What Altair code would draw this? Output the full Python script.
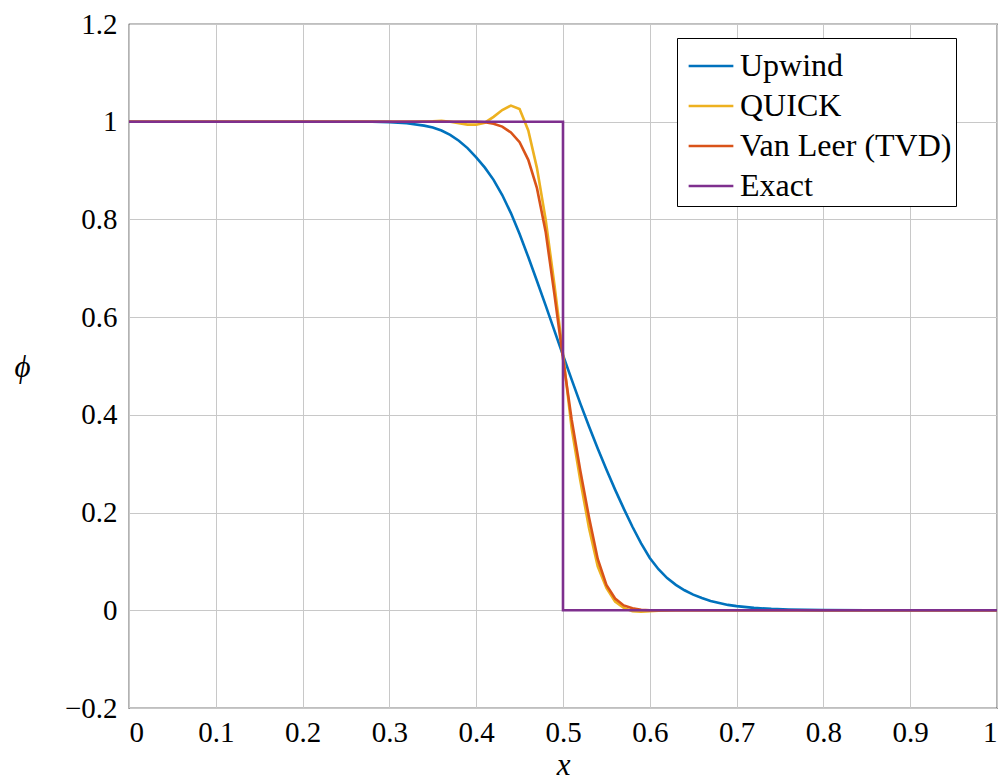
import altair as alt
import pandas as pd

# Sampled solutions of the 1D step advection test
upwind_x = [0.0, 0.25, 0.28, 0.30, 0.32, 0.34, 0.35, 0.36, 0.37, 0.38, 0.39,
            0.40, 0.41, 0.42, 0.43, 0.44, 0.45, 0.46, 0.47, 0.48, 0.49,
            0.50, 0.51, 0.52, 0.53, 0.54, 0.55, 0.56, 0.57, 0.58, 0.59,
            0.60, 0.61, 0.62, 0.63, 0.64, 0.65, 0.66, 0.67, 0.68, 0.69,
            0.70, 0.72, 0.74, 0.76, 0.78, 0.80, 0.85, 1.0]
upwind_phi = [1.0, 1.0, 0.9998, 0.9992, 0.997, 0.992, 0.988, 0.982, 0.973, 0.961, 0.946,
              0.927, 0.906, 0.881, 0.850, 0.813, 0.770, 0.723, 0.674, 0.624, 0.573,
              0.522, 0.472, 0.423, 0.376, 0.331, 0.288, 0.247, 0.208, 0.171, 0.137,
              0.107, 0.084, 0.066, 0.052, 0.041, 0.032, 0.025, 0.019, 0.015, 0.011,
              0.0085, 0.005, 0.0028, 0.0015, 0.0008, 0.0004, 0.0, 0.0]

quick_x = [0.0, 0.30, 0.33, 0.35, 0.36, 0.37, 0.38, 0.39, 0.40, 0.41, 0.42,
           0.43, 0.44, 0.45, 0.46, 0.47, 0.48, 0.49, 0.50, 0.51, 0.52,
           0.53, 0.54, 0.55, 0.56, 0.57, 0.58, 0.59, 0.60, 0.61, 0.63, 1.0]
quick_phi = [1.0, 1.0, 1.0, 1.001, 1.002, 1.0, 0.997, 0.994, 0.994, 0.998, 1.010,
             1.024, 1.033, 1.026, 0.982, 0.905, 0.800, 0.668, 0.525, 0.372, 0.265,
             0.168, 0.090, 0.046, 0.018, 0.005, -0.002, -0.003, -0.002, -0.001, 0.0, 0.0]

vanleer_x = [0.0, 0.40, 0.41, 0.42, 0.43, 0.44, 0.45, 0.46, 0.47, 0.48, 0.49,
             0.50, 0.51, 0.52, 0.53, 0.54, 0.55, 0.56, 0.57, 0.58, 0.59, 0.60, 1.0]
vanleer_phi = [1.0, 1.0, 0.999, 0.996, 0.990, 0.978, 0.958, 0.922, 0.864, 0.775, 0.648,
               0.515, 0.390, 0.285, 0.190, 0.105, 0.052, 0.024, 0.010, 0.004, 0.001, 0.0, 0.0]

exact_x = [0.0, 0.5, 0.5, 1.0]
exact_phi = [1.0, 1.0, 0.0, 0.0]

series_names = ["Upwind", "QUICK", "Van Leer (TVD)", "Exact"]
series_colors = ["#0072BD", "#EDB120", "#D95319", "#7E2F8E"]

x_ticks = [0.0, 0.1, 0.2, 0.3, 0.4, 0.5, 0.6, 0.7, 0.8, 0.9, 1.0]
y_ticks = [-0.2, 0.0, 0.2, 0.4, 0.6, 0.8, 1.0, 1.2]

frames = []
for name, xs, ys in zip(series_names,
                        [upwind_x, quick_x, vanleer_x, exact_x],
                        [upwind_phi, quick_phi, vanleer_phi, exact_phi]):
    frames.append(pd.DataFrame({"x": xs, "phi": ys, "scheme": name, "i": range(len(xs))}))
df = pd.concat(frames, ignore_index=True)

SERIF = "Liberation Serif, DejaVu Serif"

color = alt.Color(
    "scheme:N",
    scale=alt.Scale(domain=series_names, range=series_colors),
    legend=alt.Legend(
        title=None,
        orient="none",
        legendX=548,
        legendY=14,
        symbolType="stroke",
        symbolSize=2000,
        symbolStrokeWidth=2.6,
        symbolOffset=6,
        labelFont=SERIF,
        labelFontSize=32,
        labelColor="black",
        labelOffset=5,
        labelLimit=400,
        rowPadding=-3,
        padding=4,
        strokeColor="black",
        fillColor="white",
        cornerRadius=0,
    ),
)

x_enc = alt.X(
    "x:Q",
    scale=alt.Scale(domain=[0, 1], nice=False, zero=False),
    axis=alt.Axis(
        title="x",
        values=x_ticks,
        labelExpr="format(datum.value, '.1~f')",
        titleFontStyle="italic",
        titleX=434,
        titleY=66,
        titleBaseline="alphabetic",
    ),
)
y_enc = alt.Y(
    "phi:Q",
    scale=alt.Scale(domain=[-0.2, 1.2], nice=False, zero=False),
    axis=alt.Axis(
        title="ϕ",
        values=y_ticks,
        labelExpr="format(datum.value, '.1~f')",
        titleAngle=0,
        titleX=-107,
        titleY=343,
        titleAlign="center",
        titleBaseline="middle",
        titleFontStyle="italic",
    ),
)

layers = []
for name in series_names:
    layers.append(
        alt.Chart(df)
        .transform_filter(alt.datum.scheme == name)
        .mark_line(strokeWidth=2.6, clip=True)
        .encode(x=x_enc, y=y_enc, color=color, order=alt.Order("i:Q"))
    )

chart = (
    alt.layer(*layers)
    .properties(
        width=868,
        height=684,
        autosize=alt.AutoSizeParams(type="none"),
        padding={"left": 129, "top": 24, "right": 6, "bottom": 72},
    )
    .configure_view(stroke="black", strokeWidth=1.2)
    .configure_axis(
        grid=True,
        gridColor="#c8c8c8",
        gridWidth=1,
        ticks=False,
        tickSize=0,
        domain=False,
        labelFont=SERIF,
        labelFontSize=29,
        labelColor="black",
        titleFont=SERIF,
        titleFontSize=31,
        titleFontWeight="normal",
        titleColor="black",
    )
    .configure_axisX(labelPadding=10)
    .configure_axisY(labelPadding=12)
)

chart.save("out.html", embed_options={"renderer": "svg", "actions": False})
